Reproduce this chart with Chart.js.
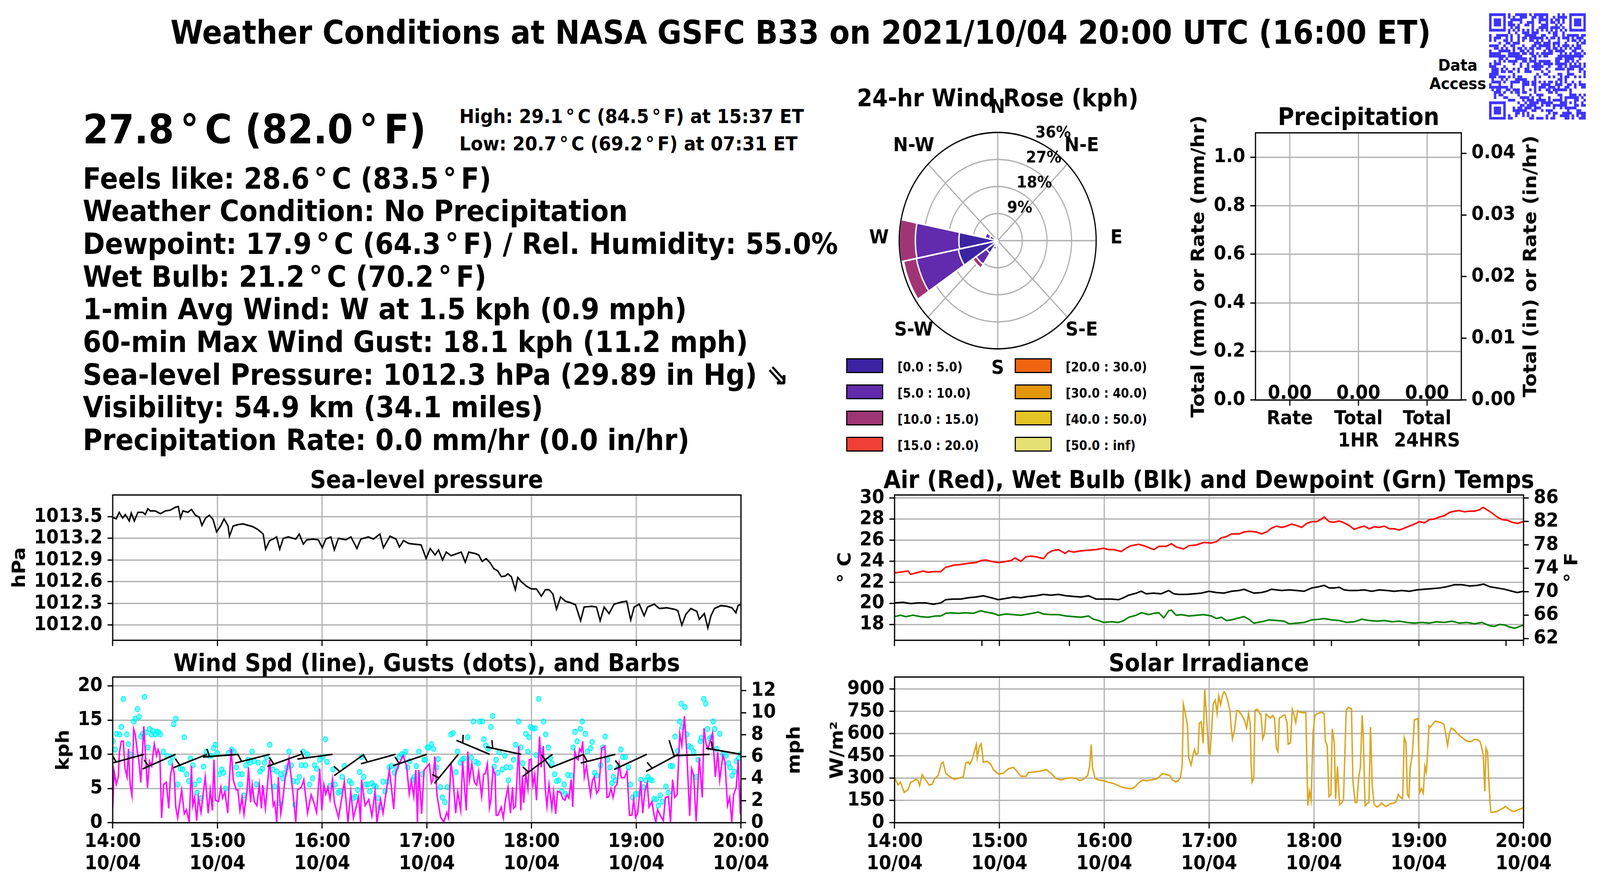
<!DOCTYPE html>
<html><head><meta charset="utf-8">
<script src="https://cdn.jsdelivr.net/npm/chart.js@4.4.1/dist/chart.umd.min.js"></script>
<style>
html,body{margin:0;padding:0;background:#fff;overflow:hidden;}
#root{position:absolute;left:0;top:0;width:4500px;height:2250px;transform-origin:0 0;background:#fff;}
canvas{position:absolute;}
.t{position:absolute;white-space:pre;line-height:1;font-family:'DejaVu Sans';font-weight:bold;color:#000;z-index:5;}
.box{position:absolute;box-sizing:border-box;border:3px solid #000;z-index:5;}
</style></head><body>
<div id="root"></div>
<script>
// ---------------- DATA ----------------
const hourTicks = [0, 60, 120, 180, 240, 300, 360];
const hourLabels = ['14:00','15:00','16:00','17:00','18:00','19:00','20:00'];
const dateLabel = '10/04';
const tempMinorTicks = [50, 100, 150, 200, 250, 300, 350];

const pressTicks = [1012.0, 1012.3, 1012.6, 1012.9, 1013.2, 1013.5];
const pressT = [0,2.0,3.7,5.7,7.2,9.5,10.6,12.4,14.4,17.2,18.7,20.1,21.5,24.4,27.3,30.2,33.0,35.9,37.6,38.8,40.2,43.1,45.1,47.4,49.7,51.1,53.2,55.4,57.5,59.5,61.8,63.8,66.1,66.9,69.0,71.8,74.7,77.6,80.4,83.3,86.2,87.6,89.9,91.9,93.9,95.7,97.7,100.6,104.9,106.9,109.2,111.2,114.9,117.8,120.1,122.1,125.0,127.0,129.3,133.6,136.5,139.9,142.2,146.5,149.4,153.1,155.1,158.9,162.3,164.3,166.6,169.5,172.4,176.7,179.6,181.9,184.7,186.7,189.0,191.1,193.9,197.4,199.7,202.0,204.0,207.7,209.7,211.7,214.0,216.3,218.4,220.6,222.7,225.0,226.4,228.4,230.7,232.1,234.1,237.0,239.9,242.8,245.6,247.9,250.0,252.2,254.3,256.6,259.4,262.3,265.2,268.1,270.1,274.4,277.2,279.3,281.6,284.4,287.3,291.6,294.5,296.8,298.8,301.7,304.5,306.5,310.3,313.2,317.5,321.8,323.8,326.1,328.4,331.3,334.7,336.1,339.0,341.0,342.8,344.8,348.5,352.0,354.8,357.1,358.3,360];
const pressV = [1013.49,1013.47,1013.56,1013.48,1013.53,1013.44,1013.55,1013.44,1013.56,1013.56,1013.53,1013.61,1013.58,1013.58,1013.54,1013.58,1013.59,1013.63,1013.64,1013.48,1013.58,1013.56,1013.60,1013.52,1013.49,1013.38,1013.48,1013.52,1013.46,1013.29,1013.37,1013.47,1013.37,1013.23,1013.37,1013.39,1013.40,1013.38,1013.36,1013.32,1013.26,1013.05,1013.17,1013.19,1013.22,1013.05,1013.20,1013.22,1013.19,1013.26,1013.12,1013.18,1013.19,1013.18,1013.07,1013.19,1013.22,1013.04,1013.20,1013.18,1013.22,1013.06,1013.19,1013.22,1013.19,1013.26,1013.07,1013.23,1013.19,1013.08,1013.17,1013.13,1013.12,1013.11,1012.92,1013.06,1012.97,1013.04,1012.90,1013.01,1012.96,1012.99,1013.01,1012.87,1013.01,1012.99,1012.97,1012.88,1012.92,1012.86,1012.78,1012.75,1012.67,1012.68,1012.71,1012.67,1012.49,1012.66,1012.60,1012.54,1012.50,1012.50,1012.40,1012.49,1012.49,1012.43,1012.22,1012.39,1012.33,1012.31,1012.28,1012.06,1012.25,1012.26,1012.25,1012.06,1012.25,1012.16,1012.29,1012.32,1012.33,1012.07,1012.25,1012.29,1012.13,1012.25,1012.29,1012.23,1012.24,1012.22,1012.20,1012.00,1012.15,1012.23,1012.19,1012.08,1012.16,1011.96,1012.13,1012.23,1012.27,1012.26,1012.24,1012.17,1012.27,1012.29];

const kphTicks = [0, 5, 10, 15, 20];
const mphTicks = [0, 2, 4, 6, 8, 10, 12];
const windT = [0,0.8,2.0,3.2,3.8,4.9,6.1,7.0,8.2,9.0,10.0,11.0,12.0,12.9,14.1,14.9,16.1,17.8,19.9,21.1,22.3,23.8,25.1,26.0,27.0,28.0,29.2,30.7,32.1,33.1,34.2,35.2,36.1,37.2,39.5,41.0,42.2,43.8,45.1,45.9,46.9,48.1,49.1,50.6,53.0,54.7,55.9,57.1,58.0,58.8,60.6,62.0,62.9,64.3,65.9,66.8,67.9,69.1,70.8,71.7,72.9,74.1,75.2,77.0,77.8,79.0,79.9,81.1,82.6,84.0,85.2,86.0,87.5,89.9,92.0,92.8,94.0,94.9,96.3,97.5,98.7,101.0,103.1,104.9,105.9,108.1,109.5,111.6,113.7,115.1,116.8,118.6,119.8,121.0,122.1,123.3,124.5,125.9,127.0,129.4,132.7,134.8,136.4,137.9,140.9,142.0,142.6,144.6,146.7,148.5,150.3,151.4,153.5,154.9,156.1,158.5,159.6,161.0,162.2,164.1,166.4,168.4,169.9,171.1,172.5,173.7,174.6,175.4,177.0,178.4,
181.4,182.6,183.4,184.6,185.8,187.9,189.7,191.4,192.4,193.8,195.0,196.5,197.7,199.4,200.5,201.7,202.6,203.5,204.4,205.8,207.3,208.5,209.7,211.4,212.6,213.5,214.7,215.9,216.7,217.9,219.1,219.7,220.8,222.6,223.8,225.0,226.5,227.9,229.1,229.7,230.8,232.0,232.6,233.8,234.7,235.5,236.7,237.9,238.7,239.7,240.8,241.8,242.8,244.6,245.5,246.7,247.9,248.8,250.0,251.6,252.6,253.8,254.9,256.7,257.9,259.1,260.2,261.4,262.7,263.6,264.8,265.9,266.7,267.5,268.5,269.3,270.2,271.4,272.6,273.8,274.9,275.9,277.3,278.5,280.2,282.0,283.2,284.3,285.5,286.7,287.9,289.0,290.2,291.4,293.2,294.7,296.1,297.5,298.5,299.6,300.8,302.6,303.7,304.9,306.3,307.3,309.0,310.2,311.2,312.2,313.7,315.5,316.7,318.4,319.6,320.8,322.0,323.4,324.9,326.1,327.6,329.0,330.6,331.7,332.9,334.3,336.1,337.8,338.8,340.0,341.1,342.3,343.7,345.3,346.7,347.8,349.6,350.8,352.3,353.5,354.7,355.8,357.3,358.4,359.6];
const windKph = [2.1,7.5,5.6,6.7,10.2,11.9,11.9,8.0,6.7,10.8,5.6,4.0,13.7,12.9,10.4,9.2,5.9,14.1,5.1,9.0,8.3,11.5,9.8,10.7,10.0,0.7,5.6,5.9,2.1,6.9,8.4,7.3,2.3,0.7,4.8,1.3,1.9,0.1,8.3,2.5,3.7,0.3,3.7,1.5,6.7,1.4,4.8,1.8,9.2,3.3,3.1,5.2,3.6,4.5,1.4,6.1,10.8,6.2,4.8,4.8,1.8,3.7,1.2,4.8,8.1,3.0,5.6,3.1,2.5,5.6,2.1,5.5,2.1,9.2,2.5,3.0,0.1,6.7,1.3,3.5,6.3,9.4,4.8,0.1,4.8,5.2,6.3,1.4,4.1,3.1,1.5,7.9,1.8,5.6,4.2,5.2,3.4,6.3,3.0,0.7,6.0,0.1,4.6,0.7,3.8,0.1,6.3,2.5,3.4,1.0,4.6,0.1,3.4,1.4,3.5,7.7,5.4,2.0,7.3,8.6,9.8,8.3,4.2,6.1,3.8,7.7,0.1,7.7,1.3,7.7,
8.6,5.8,6.2,9.7,4.0,0.8,0.1,1.5,0.7,8.8,6.5,1.4,4.5,1.8,9.0,4.8,1.8,10.4,6.2,8.6,5.9,5.5,7.5,3.8,7.1,7.2,8.6,2.2,3.4,7.9,7.0,1.1,1.1,2.3,0.7,3.3,5.2,1.4,5.2,2.1,2.4,8.3,11.2,1.8,6.9,2.9,7.2,5.0,9.2,9.3,5.5,7.0,3.3,12.6,8.1,11.2,4.9,2.4,5.6,2.1,4.6,1.3,4.6,4.4,3.5,3.3,4.1,3.6,6.3,2.3,10.4,9.4,9.2,10.8,10.4,11.9,6.7,8.3,6.2,4.0,6.2,6.7,4.3,4.8,10.9,11.2,3.7,3.8,5.0,3.7,5.3,5.6,8.6,6.6,6.6,7.5,1.1,1.1,3.4,0.8,1.4,6.1,1.4,4.6,5.8,2.3,3.1,1.1,0.1,1.9,1.1,0.3,3.7,3.8,0.1,6.3,3.7,4.1,13.1,11.3,15.6,10.0,1.0,7.9,6.9,0.2,9.5,3.7,13.8,11.5,10.8,11.9,13.1,6.7,10.3,6.2,9.8,8.9,2.5,3.7,0.1,4.1,5.2,9.2,1.3];

const gustT = [0.2,1.4,2.3,4.0,4.9,6.1,8.1,9.0,10.2,12.0,12.9,14.1,15.1,16.1,17.2,18.2,19.0,20.2,21.1,22.2,23.1,24.3,25.4,26.3,27.2,28.9,31.3,33.1,34.2,35.0,36.1,37.2,38.9,40.1,41.0,42.4,43.6,44.5,45.9,47.1,48.3,49.5,50.6,52.0,53.6,55.1,56.5,57.7,58.8,59.8,61.2,62.4,63.5,64.7,66.5,68.2,69.4,70.8,72.0,73.1,74.1,75.2,76.4,77.6,78.8,79.9,81.1,82.3,83.4,84.4,85.8,87.0,88.1,89.9,91.7,92.8,94.0,95.4,96.3,97.5,98.7,99.9,101.0,102.2,103.4,104.5,105.7,106.9,108.1,109.2,110.4,111.6,112.7,114.5,115.7,116.8,118.6,120.4,121.9,122.7,124.5,126.2,127.4,129.2,130.3,131.5,132.7,135.6,136.8,137.9,139.1,140.3,141.5,142.6,143.8,145.0,146.1,147.3,148.5,149.7,150.8,152.0,153.2,154.9,156.1,157.3,158.5,159.6,161.4,162.6,164.3,165.5,166.7,167.8,169.0,170.2,171.9,172.8,173.9,175.4,177.2,178.4,
179.1,180.3,181.1,182.6,183.8,185.6,186.5,187.7,188.8,190.3,191.7,193.8,195.0,196.7,197.6,199.1,200.3,201.4,203.4,205.5,206.7,208.1,209.3,210.3,211.8,212.6,213.8,215.2,216.7,217.7,218.5,219.7,220.6,221.4,223.2,224.7,225.5,226.7,227.9,229.7,230.8,232.6,233.8,234.9,236.7,237.9,238.5,239.4,240.6,242.0,242.6,244.1,245.3,246.9,248.1,249.6,250.8,251.6,253.2,254.4,255.5,257.3,258.7,259.6,260.8,262.6,263.8,264.9,266.1,267.9,269.1,270.8,272.0,273.8,274.7,276.1,277.3,279.6,280.8,282.2,283.5,284.9,286.1,286.9,288.1,289.6,291.2,292.3,293.7,295.5,296.7,297.9,299.6,301.4,302.6,304.1,305.5,306.7,307.9,309.0,310.2,311.4,312.6,313.7,314.9,317.0,318.4,319.6,320.8,322.2,323.7,324.9,325.7,326.4,327.9,329.0,330.2,331.4,332.8,334.3,335.5,336.7,337.3,338.7,339.8,340.8,342.0,343.1,344.1,344.9,346.1,347.8,349.6,351.4,352.8,353.7,354.9,356.1,357.3,358.7,359.6];
const gustKph = [11.9,10.7,13.0,12.9,14.0,18.1,12.9,11.5,10.0,14.8,15.2,16.6,15.5,12.6,13.0,18.4,13.2,11.0,13.7,12.9,13.4,12.9,13.3,13.2,12.9,10.4,9.8,8.8,9.6,14.4,15.2,5.6,7.9,7.8,12.5,7.1,6.1,9.4,8.4,5.6,4.4,6.2,3.6,8.2,10.4,9.8,9.8,10.9,11.4,10.2,7.1,7.8,7.3,5.0,10.2,10.7,10.4,8.1,7.1,5.6,7.1,4.0,8.4,9.2,8.8,10.4,9.0,5.6,8.8,7.5,7.9,8.8,9.6,11.4,7.8,5.3,7.5,2.9,7.1,6.5,7.3,8.1,10.4,8.4,6.1,2.6,6.0,6.7,8.4,10.4,8.4,10.0,5.6,6.5,8.4,7.9,9.2,9.6,12.2,8.9,5.4,7.8,5.6,4.4,4.6,6.7,8.3,6.1,5.8,3.6,3.8,4.8,7.4,9.6,6.7,5.6,5.6,4.6,5.8,5.4,5.3,3.6,2.3,6.0,4.6,6.0,8.1,8.3,7.3,8.1,9.6,10.0,10.0,10.4,8.1,9.0,6.3,6.7,8.3,10.4,7.1,9.2,
9.2,11.0,11.0,11.5,10.8,8.1,9.3,5.2,3.7,3.0,5.2,12.9,13.1,7.4,10.4,8.8,9.2,9.4,12.5,9.5,14.8,8.9,8.7,14.8,14.8,12.2,11.3,10.8,14.0,15.6,8.2,9.2,7.3,10.3,7.8,9.8,8.1,6.2,8.1,9.2,11.4,14.8,11.0,8.7,13.0,10.4,12.5,14.0,13.8,13.8,9.9,18.1,10.6,14.8,12.9,11.0,9.5,8.7,7.1,6.1,6.2,4.6,5.6,4.2,7.0,6.9,11.0,13.3,11.9,13.7,14.8,13.0,10.4,10.9,11.8,7.3,6.9,8.4,11.0,12.6,9.2,8.1,5.8,6.7,6.2,8.1,10.7,9.6,9.6,8.1,5.6,3.7,4.2,4.2,6.3,5.2,6.2,6.7,6.3,6.2,3.5,3.4,2.5,4.0,3.1,5.3,4.4,8.3,8.3,12.6,10.5,14.8,17.4,14.0,16.9,12.9,11.2,11.0,10.4,6.7,9.2,11.9,12.4,18.1,17.4,13.7,12.3,12.5,14.8,13.7,10.8,13.0,10.0,9.8,8.7,8.1,6.9,7.5,9.0,9.4,10.0];

const barbLevelKph = 10;
const barbT = [18,36,54,72,90,108,126,144,162,180,198,216,234,252,270,288,306,324,342,360];
const barbDir = [256,248,250,266,257,252,263,237,256,253,222,291,281,236,250,257,247,244,268,279];
const barbKph = [6,6,6,6,6,6,6,6,6,6,6,6,6,6,8,6,6,6,8,6];

const degCTicks = [18, 20, 22, 24, 26, 28, 30];
const degFTicks = [62, 66, 70, 74, 78, 82, 86];
const airT = [0,4.9,7.7,9.2,13.5,16.4,19.2,22.1,26.4,29.3,31.3,33.6,37.9,42.2,46.5,49.4,52.2,55.1,59.4,62.3,66.6,68.9,72.3,75.2,78.0,80.9,85.2,87.5,90.1,93.8,97.6,99.6,102.4,106.7,111.0,115.3,119.6,122.5,125.4,129.7,132.5,135.4,139.7,142.6,145.5,148.4,151.2,155.5,158.4,161.2,165.5,168.4,172.7,177.0,181.3,184.2,187.1,190.0,192.8,197.1,200.0,203.4,207.1,210.0,212.9,215.8,218.6,221.5,224.4,227.2,230.1,233.0,235.8,238.7,241.6,244.4,245.9,248.7,251.6,254.5,257.3,260.2,263.1,266.0,268.8,271.7,274.6,277.4,280.3,283.2,286.0,288.9,291.8,294.6,297.5,300.4,303.3,306.1,309.0,311.9,314.7,317.6,320.5,323.3,326.2,329.1,331.9,334.8,336.8,339.1,342.0,344.9,347.7,350.6,353.5,356.3,360];
const airC = [22.89,23.01,23.07,22.76,22.95,23.07,22.95,23.01,23.01,23.44,23.50,23.63,23.69,23.81,23.88,24.06,24.12,24.00,23.88,23.94,24.06,24.31,24.00,24.43,24.49,24.43,24.25,24.74,24.99,25.11,24.74,24.99,24.87,24.99,25.05,25.11,25.24,25.11,25.11,24.93,25.24,25.48,25.61,25.48,25.30,25.11,25.42,25.42,25.67,25.36,25.17,25.48,25.55,25.79,25.73,25.86,26.23,26.35,26.60,26.60,26.78,26.85,26.78,26.60,26.78,27.15,27.34,27.22,27.34,27.53,27.40,27.22,27.59,27.77,27.77,28.02,28.21,27.77,27.71,27.83,27.65,27.40,27.03,27.22,27.34,27.09,27.28,27.22,27.34,27.09,27.09,26.97,27.15,27.34,27.53,27.77,27.65,27.96,28.02,28.21,28.33,28.64,28.76,28.82,28.70,28.76,28.76,28.89,29.13,28.89,28.58,28.21,27.96,27.90,27.71,27.59,27.77];
const wetT = [0,4.9,9.2,13.5,17.8,22.1,26.4,29.3,33.6,37.9,42.2,46.5,50.8,55.1,59.4,63.7,68.0,72.3,76.6,80.9,85.2,89.5,93.8,98.1,102.4,106.7,111.0,115.3,119.6,123.9,128.2,131.1,134.0,138.3,141.2,144.0,148.3,152.6,156.9,159.8,162.7,167.0,171.3,175.6,179.9,184.2,188.5,192.8,197.1,200.0,202.8,205.7,210.0,212.9,215.7,218.6,221.5,225.8,230.1,234.4,238.7,243.0,245.9,248.7,251.6,254.5,257.3,260.2,264.5,268.8,273.1,277.4,281.7,286.0,290.3,294.6,298.9,303.3,307.6,311.9,316.2,320.5,324.8,329.1,333.4,337.1,340.5,344.9,349.2,353.5,356.3,360];
const wetC = [20.04,20.10,19.98,20.04,20.04,19.92,20.04,20.35,20.41,20.41,20.54,20.60,20.72,20.54,20.35,20.47,20.60,20.54,20.66,20.72,20.85,20.78,20.85,20.72,20.66,20.60,20.72,20.41,20.41,20.41,20.35,20.54,20.78,20.97,21.15,20.91,20.97,20.91,21.22,20.91,20.85,20.85,20.91,20.97,21.15,21.03,20.97,21.15,21.22,21.34,21.15,20.97,21.03,21.15,21.34,21.28,21.22,21.28,21.22,21.15,21.46,21.59,21.71,21.46,21.46,21.53,21.28,21.22,21.22,21.28,21.15,21.28,21.22,21.15,21.22,21.15,21.28,21.34,21.40,21.46,21.59,21.77,21.77,21.65,21.71,21.83,21.59,21.46,21.34,21.15,21.03,21.15];
const dewT = [0,3.4,6.3,10.6,14.9,19.2,23.5,26.4,29.3,32.1,36.4,40.7,45.0,49.3,52.2,56.5,59.4,63.7,68.0,72.3,76.6,82.3,85.2,89.5,93.8,98.1,102.4,106.7,111.0,113.9,116.8,119.6,123.9,128.2,131.1,134.0,138.3,141.2,145.5,148.3,151.2,154.1,156.9,158.4,161.2,164.1,168.4,172.7,177.0,181.3,184.2,187.1,189.9,192.8,197.1,200.0,202.8,205.7,210.0,214.3,218.6,222.9,225.8,230.1,234.4,238.7,243.0,245.9,250.2,254.5,258.8,263.1,267.4,271.7,276.0,280.3,284.6,288.9,293.2,297.5,301.8,306.1,310.4,314.7,319.0,323.3,327.6,331.9,336.2,340.5,343.4,346.3,349.2,352.0,354.9,357.8,360];
const dewC = [18.74,18.87,18.74,18.87,18.74,18.68,18.80,18.80,19.05,19.11,19.05,19.11,19.05,19.30,19.17,19.05,18.87,18.99,18.93,18.87,18.99,19.17,18.99,18.93,18.93,18.80,18.74,18.68,18.80,18.49,18.37,18.19,18.25,18.19,18.37,18.68,18.87,19.11,18.93,19.05,19.11,18.62,19.30,19.36,18.87,18.93,18.80,18.87,18.93,18.80,18.56,18.68,18.37,18.43,18.62,18.74,18.49,18.12,18.25,18.43,18.37,18.31,18.06,18.12,18.19,18.43,18.49,18.56,18.43,18.37,18.19,18.25,18.49,18.37,18.31,18.37,18.25,18.31,18.19,18.12,18.19,18.12,18.25,18.19,18.31,18.12,18.19,18.06,18.19,17.88,17.81,18.00,17.94,17.75,17.63,17.81,17.94];

const solarTicks = [0, 150, 300, 450, 600, 750, 900];
const solarT = [0,2.0,3.4,5.5,7.7,9.2,10.6,12.0,13.5,14.3,15.8,17.2,19.8,21.5,23.0,25.0,26.7,27.8,29.3,31.3,34.1,37.9,39.3,40.7,42.2,43.0,44.5,45.6,46.8,47.3,48.5,49.6,50.8,53.1,55.1,56.5,59.4,62.3,65.1,68.0,70.3,72.3,75.2,76.6,80.9,83.8,86.6,89.5,92.4,95.3,98.1,101.0,103.9,105.9,108.2,110.5,111.6,112.5,113.3,114.8,116.8,119.6,122.5,125.4,128.2,131.7,135.4,137.4,139.7,142.0,144.0,146.9,
150.0,151.4,153.4,156.1,157.5,158.8,160.8,162.2,163.6,164.6,165.3,166.3,167.6,168.3,169.7,171.0,171.7,172.4,173.7,174.4,175.5,176.6,177.5,178.5,179.8,180.5,181.5,182.3,183.6,184.6,185.5,186.6,187.7,188.6,189.6,190.7,192.0,192.7,193.4,194.7,195.8,196.8,198.5,200.2,201.5,202.6,203.6,204.0,204.6,205.6,206.3,207.6,209.0,209.7,210.7,211.7,212.6,213.7,215.1,216.4,217.5,218.5,219.4,220.2,221.2,222.5,223.5,224.6,225.3,226.6,227.6,228.7,229.6,230.7,232.0,233.4,235.4,236.5,237.5,238.4,239.5,240.6,241.5,243.6,245.0,245.9,246.5,247.6,248.6,249.7,250.5,251.7,252.4,253.5,254.7,255.8,256.9,257.8,258.5,259.6,261.5,262.3,263.6,264.6,265.7,266.6,267.6,268.2,269.3,270.4,271.5,272.4,273.4,274.5,276.1,277.5,278.8,280.9,282.2,283.6,285.6,287.0,288.3,289.7,290.8,291.7,292.7,293.5,294.4,295.1,296.4,297.5,298.5,299.6,300.5,301.6,302.6,303.5,304.3,305.0,305.9,306.6,307.6,308.7,309.7,311.4,312.7,314.5,315.4,316.5,317.5,318.6,320.2,321.5,323.3,324.9,326.6,328.3,330.1,331.7,333.3,335.1,336.0,336.9,337.8,338.5,339.4,340.1,341.2,342.5,344.6,346.6,348.7,349.6,351.4,353.4,354.8,356.1,358.1,359.5,360];
const solarW = [303,254,273,204,224,273,278,293,283,249,323,298,254,259,298,318,398,408,333,313,293,303,308,403,408,393,428,477,527,437,512,532,408,413,393,358,328,333,363,373,343,313,313,338,343,348,358,333,298,288,298,303,298,283,293,318,378,527,368,298,288,283,273,264,249,234,229,239,268,288,283,288,
295,309,331,322,318,291,275,282,304,388,798,741,661,441,388,467,494,459,467,670,679,534,900,723,467,459,635,798,825,736,856,794,860,882,864,820,750,635,564,635,754,754,728,692,639,736,661,415,273,300,758,763,736,728,564,600,732,719,705,723,701,503,481,705,710,723,723,675,529,538,763,723,675,754,745,741,741,115,212,150,609,723,732,741,741,728,551,520,176,190,631,538,159,379,123,132,154,494,758,776,767,282,137,137,313,370,723,600,115,128,137,644,247,123,106,115,132,110,115,128,132,141,190,168,163,573,538,190,172,370,467,692,697,701,203,229,198,379,340,459,653,644,657,675,684,679,675,661,600,520,600,637,626,609,587,573,556,547,547,560,560,547,507,459,212,503,476,282,71,71,75,88,101,110,93,79,75,84,93,99,100];

const precipCats = [['Rate'], ['Total', '1HR'], ['Total', '24HRS']];
const precipMm = [0, 0, 0];
const precipMmTicks = [0, 0.2, 0.4, 0.6, 0.8, 1.0];
const precipInTicks = [0, 0.01, 0.02, 0.03, 0.04];

const roseDirs = ['N','NNE','NE','ENE','E','ESE','SE','SSE','S','SSW','SW','WSW','W','WNW','NW','NNW'];
const roseBin0 = [0,0,0,0,0,0,0,0,0.4,2.0,5.0,14.7,14.2,3.0,0,0];
const roseBin1 = [0,0,0,0,0,0,0,0,0,1.0,4.5,15.6,15.9,1.7,0,0];
const roseBin2 = [0,0,0,0,0,0,0,0,0,0,1.5,4.8,5.9,0,0,0];
const roseBin3 = [0,0,0,0,0,0,0,0,0,0,0,0,0,0,0,0];
const roseBin4 = [0,0,0,0,0,0,0,0,0,0,0,0,0,0,0,0];
const roseBin5 = [0,0,0,0,0,0,0,0,0,0,0,0,0,0,0,0];
const roseBin6 = [0,0,0,0,0,0,0,0,0,0,0,0,0,0,0,0];
const roseBin7 = [0,0,0,0,0,0,0,0,0,0,0,0,0,0,0,0];
const roseBinLabels = ['[0.0 : 5.0)','[5.0 : 10.0)','[10.0 : 15.0)','[15.0 : 20.0)','[20.0 : 30.0)','[30.0 : 40.0)','[40.0 : 50.0)','[50.0 : inf)'];
const roseColors = ['#3b24a3','#622aac','#a03576','#f04035','#f06512','#e4960c','#e4c424','#e6e173'];
const roseTicks = [9, 18, 27, 36];
const compassLabels = ['N','N-E','E','S-E','S','S-W','W','N-W'];

// ---------------- PAGE FIT (the design grid is 4500 x 2250) ----------------
const root = document.getElementById('root');
const vw = window.innerWidth || 4500, vh = window.innerHeight || 2250;
const SX = vw > 100 ? vw / 4500 : 1, SY = vh > 100 ? vh / 2250 : 1;
root.style.transform = 'scale(' + SX + ',' + SY + ')';
document.body.style.width = vw + 'px'; document.body.style.height = vh + 'px';
const DPR = (window.devicePixelRatio || 1) * Math.max(SX, SY);

// ---------------- HELPERS ----------------
const GRID = '#b0b0b0', LW = 3.3, TL = 14.6, FONT = '"DejaVu Sans"';
const DEG = '\u2006°\u2006';
Chart.defaults.font.family = "'DejaVu Sans'";
Chart.defaults.font.weight = 'bold';
Chart.defaults.font.size = 50;
Chart.defaults.color = '#000';

function addText(str, x, base, size, align) {
  const d = document.createElement('div');
  d.className = 't'; d.textContent = str; d.style.fontSize = size + 'px';
  d.style.left = x + 'px'; d.style.top = (base - 0.846 * size) + 'px';
  if (align === 'center') d.style.transform = 'translateX(-50%)';
  else if (align === 'right') d.style.transform = 'translateX(-100%)';
  root.appendChild(d);
}
function addRotText(str, cx, cy, size) {
  const d = document.createElement('div');
  d.className = 't'; d.textContent = str; d.style.fontSize = size + 'px';
  d.style.left = cx + 'px'; d.style.top = cy + 'px';
  d.style.transform = 'translate(-50%,-50%) rotate(-90deg)';
  root.appendChild(d);
}
function makeCanvas(id, x, y, w, h) {
  const c = document.createElement('canvas');
  c.id = id; c.width = w; c.height = h;
  c.style.left = x + 'px'; c.style.top = y + 'px';
  c.style.width = w + 'px'; c.style.height = h + 'px';
  root.appendChild(c);
  return c;
}
function zeroPad(s) { s.paddingTop = 0; s.paddingBottom = 0; s.paddingLeft = 0; s.paddingRight = 0; }
function fixW(w) { return s => { s.width = w; zeroPad(s); }; }
function fixH(h) { return s => { s.height = h; zeroPad(s); }; }
function setTicks(vals) { return s => { s.ticks = vals.map(v => ({ value: v })); }; }
function pts(T, V) { return T.map((t, i) => ({ x: t, y: V[i] })); }

function xTime(height, showLabels, tickVals) {
  return {
    type: 'linear', position: 'bottom', min: 0, max: 360,
    afterBuildTicks: setTicks(tickVals), afterFit: fixH(height),
    border: { display: false },
    grid: { color: c => (c.tick && c.tick.value % 60 === 0) ? GRID : 'rgba(0,0,0,0)', lineWidth: LW,
            tickColor: '#000', tickWidth: LW, tickLength: TL, drawTicks: true },
    ticks: { display: showLabels, autoSkip: false, maxRotation: 0, minRotation: 0, padding: 6,
             font: { size: 50, weight: 'bold', lineHeight: 1.14 },
             callback: v => [hourLabels[hourTicks.indexOf(v)], dateLabel] }
  };
}
function yAxis(pos, min, max, vals, width, fmt, onArea) {
  return {
    type: 'linear', position: pos, min: min, max: max,
    afterBuildTicks: setTicks(vals), afterFit: fixW(width),
    border: { display: false },
    grid: { drawOnChartArea: onArea, color: GRID, lineWidth: LW, tickColor: '#000', tickWidth: LW, tickLength: TL },
    ticks: { autoSkip: false, padding: 14, font: { size: 50, weight: 'bold' }, callback: fmt }
  };
}
const framePlugin = {
  id: 'frame',
  afterDatasetsDraw(chart) {
    const { ctx, chartArea: a } = chart;
    ctx.save(); ctx.strokeStyle = '#000'; ctx.lineWidth = LW;
    ctx.strokeRect(a.left, a.top, a.right - a.left, a.bottom - a.top);
    ctx.restore();
  }
};
function baseOpts(pad) {
  return {
    responsive: false, devicePixelRatio: DPR, animation: false, events: [],
    layout: { padding: pad, autoPadding: false },
    plugins: { legend: { display: false }, tooltip: { enabled: false } }
  };
}

// ---------------- TEXT ----------------
addText('Weather Conditions at NASA GSFC B33 on 2021/10/04 20:00 UTC (16:00 ET)', 2252, 112, 83.3, 'center');
addText('Data', 4100, 181, 41.7, 'center');
addText('Access', 4100, 228, 41.7, 'center');
addText('27.8' + DEG + 'C (82.0' + DEG + 'F)', 233, 367, 104, 'left');
addText('High: 29.1' + DEG + 'C (84.5' + DEG + 'F) at 15:37 ET', 1292, 315, 50, 'left');
addText('Low: 20.7' + DEG + 'C (69.2' + DEG + 'F) at 07:31 ET', 1292, 385, 50, 'left');
const statLines = [
  'Feels like: 28.6' + DEG + 'C (83.5' + DEG + 'F)',
  'Weather Condition: No Precipitation',
  'Dewpoint: 17.9' + DEG + 'C (64.3' + DEG + 'F) / Rel. Humidity: 55.0%',
  'Wet Bulb: 21.2' + DEG + 'C (70.2' + DEG + 'F)',
  '1-min Avg Wind: W at 1.5 kph (0.9 mph)',
  '60-min Max Wind Gust: 18.1 kph (11.2 mph)',
  'Sea-level Pressure: 1012.3 hPa (29.89 in Hg) \u21D8',
  'Visibility: 54.9 km (34.1 miles)',
  'Precipitation Rate: 0.0 mm/hr (0.0 in/hr)'
];
statLines.forEach((s, i) => addText(s, 233, 483 + i * 83.7, 75, 'left'));

addText('24-hr Wind Rose (kph)', 2806, 273, 62.5, 'center');
addText('Precipitation', 3821, 321, 62.5, 'center');
addText('Sea-level pressure', 1200, 1250, 62.5, 'center');
addText('Wind Spd (line), Gusts (dots), and Barbs', 1200, 1719, 62.5, 'center');
addText('Air (Red), Wet Bulb (Blk) and Dewpoint (Grn) Temps', 3400, 1250, 62.5, 'center');
addText('Solar Irradiance', 3400, 1719, 62.5, 'center');

addRotText('hPa', 53, 1453, 50);
addRotText('kph', 176, 1920, 50);
addRotText('mph', 2232, 1920, 50);
addRotText('° C', 2375, 1453, 50);
addRotText('° F', 4419, 1453, 50);
addRotText('W/m²', 2353, 1920, 50);
addRotText('Total (mm) or Rate (mm/hr)', 3369, 682, 50);
addRotText('Total (in) or Rate (in/hr)', 4303, 682, 50);

roseBinLabels.forEach((lab, k) => {
  const col = Math.floor(k / 4), row = k % 4;
  const cy = 936 + row * 67;
  const b = document.createElement('div');
  b.className = 'box';
  b.style.left = (col ? 2854 : 2380) + 'px'; b.style.top = (cy - 19) + 'px';
  b.style.width = '104px'; b.style.height = '38px'; b.style.background = roseColors[k];
  root.appendChild(b);
  addText(lab, col ? 2997 : 2524, cy + 15, 33, 'left');
});

// ---------------- QR (decorative) ----------------
(function () {
  const c = makeCanvas('qr', 4188, 34, 272, 272);
  const ctx = c.getContext('2d');
  const n = 41, m = 272 / n;
  ctx.fillStyle = '#3d33ff';
  const cell = (i, j) => ctx.fillRect(i * m, j * m, m + 0.4, m + 0.4);
  function bit(i, j) {
    let h = Math.imul(i + 1, 0x9E3779B1) ^ Math.imul(j + 7, 0x85EBCA77);
    h ^= h >>> 15; h = Math.imul(h, 0xC2B2AE3D); h ^= h >>> 13;
    return (h >>> 7) & 1;
  }
  function finder(ox, oy) {
    for (let i = 0; i < 7; i++) for (let j = 0; j < 7; j++) {
      const ring = i === 0 || j === 0 || i === 6 || j === 6;
      const core = i >= 2 && i <= 4 && j >= 2 && j <= 4;
      if (ring || core) cell(ox + i, oy + j);
    }
  }
  const inFinder = (i, j) => (i < 8 && j < 8) || (i >= n - 8 && j < 8) || (i < 8 && j >= n - 8);
  const inAlign = (i, j) => i >= 32 && i <= 36 && j >= 32 && j <= 36;
  for (let i = 0; i < n; i++) for (let j = 0; j < n; j++) {
    if (inFinder(i, j) || inAlign(i, j)) continue;
    if (i === 6 || j === 6) { if ((i + j) % 2 === 0) cell(i, j); continue; }
    if (bit(i, j)) cell(i, j);
  }
  finder(0, 0); finder(n - 7, 0); finder(0, n - 7);
  for (let i = 0; i < 5; i++) for (let j = 0; j < 5; j++) {
    if (i === 0 || j === 0 || i === 4 || j === 4 || (i === 2 && j === 2)) cell(32 + i, 32 + j);
  }
})();

// ---------------- CHARTS ----------------
new Chart(makeCanvas('press', 80, 1200, 2180, 500), {
  type: 'line',
  data: { datasets: [{ data: pts(pressT, pressV), borderColor: '#000', borderWidth: 4, pointRadius: 0, tension: 0, fill: false }] },
  options: Object.assign(baseOpts({ left: 0, top: 67, right: 176, bottom: 0 }), {
    scales: { x: xTime(61, false, hourTicks), y: yAxis('left', 1011.79, 1013.80, pressTicks, 237, v => v.toFixed(1), true) }
  }),
  plugins: [framePlugin]
});

const barbPlugin = {
  id: 'barbs',
  afterDatasetsDraw(chart) {
    const { ctx, chartArea: a, scales } = chart;
    const x = scales.x, y = scales.y;
    ctx.save();
    ctx.beginPath(); ctx.rect(a.left, a.top, a.right - a.left, a.bottom - a.top); ctx.clip();
    ctx.strokeStyle = '#000'; ctx.lineWidth = 4; ctx.lineCap = 'butt';
    const L = 100, sp = 0.125 * L, fh = 0.4 * L, fw = 0.25 * L;
    barbT.forEach((t, i) => {
      const px = x.getPixelForValue(t), py = y.getPixelForValue(barbLevelKph);
      const th = barbDir[i] * Math.PI / 180;
      const dx = Math.sin(th), dy = -Math.cos(th);
      const qx = -dy, qy = dx;
      const tx = px + L * dx, ty = py + L * dy;
      ctx.beginPath(); ctx.moveTo(px, py); ctx.lineTo(tx, ty); ctx.stroke();
      const mag = 5 * Math.round(barbKph[i] / 5);
      const nFull = Math.floor((mag % 50) / 10), half = (mag % 10) >= 5;
      let off = 0;
      for (let k = 0; k < nFull; k++) {
        const ax = tx - off * dx, ay = ty - off * dy;
        ctx.beginPath(); ctx.moveTo(ax, ay);
        ctx.lineTo(ax + fh * qx + fw / 2 * dx, ay + fh * qy + fw / 2 * dy); ctx.stroke();
        off += sp;
      }
      if (half) {
        if (off === 0) off = 1.5 * sp;
        const ax = tx - off * dx, ay = ty - off * dy;
        ctx.beginPath(); ctx.moveTo(ax, ay);
        ctx.lineTo(ax + fh / 2 * qx + fw / 4 * dx, ay + fh / 2 * qy + fw / 4 * dy); ctx.stroke();
      }
    });
    ctx.restore();
  }
};
new Chart(makeCanvas('wind', 80, 1680, 2220, 570), {
  type: 'line',
  data: { datasets: [
    { data: pts(windT, windKph), borderColor: '#ff00ff', borderWidth: 4, pointRadius: 0, tension: 0, fill: false, order: 0 },
    { data: pts(gustT, gustKph), showLine: false, pointRadius: 6.5, pointBorderWidth: 2.5,
      pointBackgroundColor: 'rgba(0,255,255,0.55)', pointBorderColor: 'rgba(0,240,240,0.85)', order: 1 }
  ] },
  options: Object.assign(baseOpts({ left: 0, top: 53, right: 0, bottom: 0 }), {
    scales: {
      x: xTime(144, true, hourTicks),
      y: yAxis('left', 0, 21.3, kphTicks, 237, v => String(v), true),
      y2: yAxis('right', 0, 21.3 / 1.609344, mphTicks, 216, v => String(v), false)
    }
  }),
  plugins: [barbPlugin, framePlugin]
});

const tempXTicks = Array.from(new Set(hourTicks.concat(tempMinorTicks))).sort((a, b) => a - b);
new Chart(makeCanvas('temps', 2380, 1200, 2100, 500), {
  type: 'line',
  data: { datasets: [
    { data: pts(airT, airC), borderColor: '#ff0000', borderWidth: 4, pointRadius: 0, tension: 0, fill: false },
    { data: pts(wetT, wetC), borderColor: '#000000', borderWidth: 4, pointRadius: 0, tension: 0, fill: false },
    { data: pts(dewT, dewC), borderColor: '#008000', borderWidth: 4, pointRadius: 0, tension: 0, fill: false }
  ] },
  options: Object.assign(baseOpts({ left: 0, top: 67, right: 0, bottom: 0 }), {
    scales: {
      x: xTime(61, false, tempXTicks),
      y: yAxis('left', 16.49, 30.30, degCTicks, 136, v => String(v), true),
      y2: yAxis('right', 16.49 * 1.8 + 32, 30.30 * 1.8 + 32, degFTicks, 195, v => String(v), false)
    }
  }),
  plugins: [framePlugin]
});

new Chart(makeCanvas('solar', 2280, 1680, 2200, 570), {
  type: 'line',
  data: { datasets: [{ data: pts(solarT, solarW), borderColor: '#daa520', borderWidth: 4, pointRadius: 0, tension: 0, fill: false }] },
  options: Object.assign(baseOpts({ left: 0, top: 53, right: 195, bottom: 0 }), {
    scales: { x: xTime(144, true, hourTicks), y: yAxis('left', 0, 981, solarTicks, 236, v => String(v), true) }
  }),
  plugins: [framePlugin]
});

const precipLabelPlugin = {
  id: 'plabels',
  afterDatasetsDraw(chart) {
    const { ctx, scales } = chart;
    ctx.save(); ctx.fillStyle = '#000'; ctx.font = 'bold 50px ' + FONT;
    ctx.textAlign = 'center'; ctx.textBaseline = 'alphabetic';
    precipMm.forEach((v, i) => ctx.fillText(v.toFixed(2), scales.x.getPixelForValue(i), scales.y.getPixelForValue(v) - 3));
    ctx.restore();
  }
};
new Chart(makeCanvas('precip', 3380, 290, 910, 890), {
  type: 'bar',
  data: { labels: precipCats, datasets: [{ data: precipMm, backgroundColor: '#1f77b4', borderWidth: 0 }] },
  options: Object.assign(baseOpts({ left: 0, top: 50, right: 0, bottom: 0 }), {
    scales: {
      x: { type: 'category', offset: true, afterFit: fixH(156), border: { display: false },
           grid: { offset: false, color: GRID, lineWidth: LW, tickColor: '#000', tickWidth: LW, tickLength: TL },
           ticks: { autoSkip: false, maxRotation: 0, padding: 6, font: { size: 50, weight: 'bold', lineHeight: 1.14 } } },
      y: yAxis('left', 0, 1.1, precipMmTicks, 151, v => v.toFixed(1), true),
      y2: yAxis('right', 0, 1.1 / 25.4, precipInTicks, 180, v => v.toFixed(2), false)
    }
  }),
  plugins: [precipLabelPlugin, framePlugin]
});

const roseBins = [roseBin0, roseBin1, roseBin2, roseBin3, roseBin4, roseBin5, roseBin6, roseBin7];
const roseDatasets = [];
let acc = roseDirs.map(() => 0);
roseBins.forEach((b, k) => {
  acc = acc.map((a, i) => a + b[i]);
  if (b.some(v => v > 0)) {
    roseDatasets.push({ data: acc.slice(), backgroundColor: roseColors[k], borderColor: '#ffffff',
      borderWidth: c => (c.raw > 0 ? 4 : 0), order: k });
  }
});
const rosePlugin = {
  id: 'rose',
  beforeDatasetsDraw(chart) {
    const s = chart.scales.r, ctx = chart.ctx;
    ctx.save(); ctx.strokeStyle = GRID; ctx.lineWidth = LW;
    for (let k = 0; k < 8; k++) {
      const a = k * Math.PI / 4;
      ctx.beginPath(); ctx.moveTo(s.xCenter, s.yCenter);
      ctx.lineTo(s.xCenter + s.drawingArea * Math.sin(a), s.yCenter - s.drawingArea * Math.cos(a));
      ctx.stroke();
    }
    ctx.restore();
  },
  afterDatasetsDraw(chart) {
    const s = chart.scales.r, ctx = chart.ctx, R = s.drawingArea;
    ctx.save();
    ctx.strokeStyle = '#000'; ctx.lineWidth = LW;
    ctx.beginPath(); ctx.arc(s.xCenter, s.yCenter, R, 0, 2 * Math.PI); ctx.stroke();
    ctx.fillStyle = '#000';
    ctx.font = 'bold 50px ' + FONT; ctx.textAlign = 'center'; ctx.textBaseline = 'middle';
    compassLabels.forEach((lab, k) => {
      const a = k * Math.PI / 4, rr = R + 57;
      ctx.fillText(lab, s.xCenter + rr * Math.sin(a), s.yCenter - rr * Math.cos(a) - 6);
    });
    ctx.font = 'bold 41.7px ' + FONT; ctx.textAlign = 'left'; ctx.textBaseline = 'alphabetic';
    const la = 22.5 * Math.PI / 180;
    roseTicks.forEach(v => {
      const d = s.getDistanceFromCenterForValue(v);
      ctx.fillText(v + '%', s.xCenter + d * Math.sin(la), s.yCenter - d * Math.cos(la) - 8);
    });
    ctx.restore();
  }
};
new Chart(makeCanvas('rose', 2372, 182, 868, 868), {
  type: 'polarArea',
  data: { labels: roseDirs, datasets: roseDatasets },
  options: Object.assign(baseOpts(157), {
    scales: { r: { min: 0, max: 36, startAngle: -11.25,
      afterBuildTicks: s => { s.ticks = [0].concat(roseTicks).map(v => ({ value: v })); },
      ticks: { display: false }, grid: { color: GRID, lineWidth: LW, circular: true },
      angleLines: { display: false }, pointLabels: { display: false } } }
  }),
  plugins: [rosePlugin]
});
</script>
</body></html>
